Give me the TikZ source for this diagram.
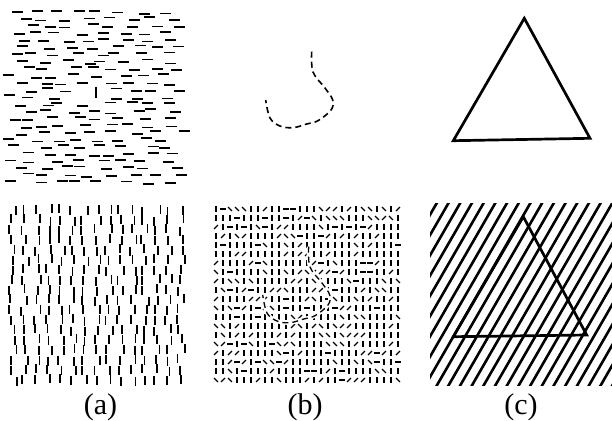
\documentclass[tikz,border=0pt]{standalone}
\usepackage{fontspec}
\setmainfont{Liberation Serif}
\usetikzlibrary{calc}
\tikzset{
  bar/.style={line width=1.8pt},
  tick/.style={line width=1.2pt},
  heavy/.style={line width=2.7pt,line join=miter},
  stripe/.style={line width=2.6pt},
  curvedash/.style={line width=1.6pt,dash pattern=on 6pt off 4pt},
  caption/.style={font=\fontsize{30}{32}\selectfont,inner sep=0pt},
}
\def\hiddencurve{plot[smooth,tension=0.6] coordinates {(311.7,51.7) (313,72) (325,88) (332.7,100) (331,110) (318,120.7) (306.7,124) (293,127.7) (280,126) (270,118) (265.7,100)}}

\begin{document}
\begin{tikzpicture}[x=1pt,y=-1pt]
\useasboundingbox (0,0) rectangle (612,420);

\pgfmathsetseed{11}
\foreach \r in {0,...,24}{
  \foreach \c in {0,...,7}{
    \pgfmathsetmacro{\px}{20+21.5*\c+mod(\r,3)*7-7+rand*7}
    \pgfmathsetmacro{\py}{12+7.1*\r+rand*2.2}
    \pgfmathtruncatemacro{\nearv}{(abs(\px-96)<13)&&(abs(\py-92)<8)}
    \ifnum\nearv=0
      \draw[bar] (\px-5.5,\py) -- (\px+5.5,\py);
    \fi
  }
}
\draw[bar] (96,86.5) -- (96,97.5);

\begin{scope}
\clip (7,204) rectangle (190,386);
\foreach \r in {0,...,17}{
  \foreach \c in {0,...,14}{
    \pgfmathsetmacro{\px}{13+12*\c+rand*4}
    \pgfmathsetmacro{\py}{210+10*\r+rand*1.5}
    \draw[bar] (\px,\py-4.5) -- (\px,\py+4.5);
  }
}
\end{scope}

\draw[curvedash] \hiddencurve;

\begin{scope}
\clip (212,202) rectangle (404,386);
\foreach \r in {0,...,19}{
  \foreach \c in {0,...,26}{
    \pgfmathrandominteger{\k}{0}{6}
    \pgfmathsetmacro{\ang}{{90,90,90,0,45,135,90}[\k]}
    \draw[tick,shift={(216+7*\c,209+9*\r)},rotate=\ang] (-2.8,0) -- (2.8,0);
  }
}
\end{scope}
\draw[white,line width=4pt,shift={(-3,195)}] \hiddencurve;
\draw[curvedash,line width=1.3pt,shift={(-3,195)}] \hiddencurve;

\draw[heavy] (453.3,140.7) -- (524.3,18.3) -- (590,138.3) -- cycle;

\begin{scope}
\clip (430,203) rectangle (612,385);
\foreach \k in {-10,...,16}
  \draw[stripe] ({419.6+11.7*\k},395) -- ({536.2+11.7*\k},193);
\end{scope}
\draw[heavy] (453.3,336.7) -- (523.3,216.7) -- (586.7,335) -- cycle;

\node[caption] (capa) at (100.5,407.5) {(a)};
\node[caption] (capb) at (305,407.5) {(b)};
\node[caption] (capc) at (521,407.5) {(c)};
\end{tikzpicture}
\end{document}
